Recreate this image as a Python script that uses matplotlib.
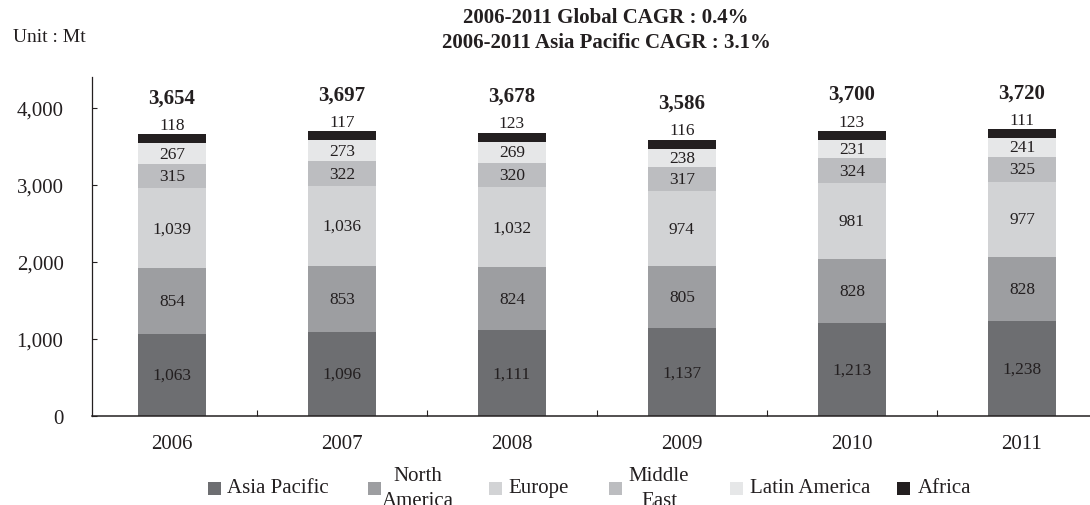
import matplotlib
matplotlib.use("Agg")
import matplotlib.pyplot as plt
from matplotlib.patches import Rectangle
from matplotlib.ticker import FuncFormatter

plt.rcParams['font.family'] = ['Liberation Serif', 'DejaVu Serif']

# Production by region, Mt
years = ["2006", "2007", "2008", "2009", "2010", "2011"]
regions = ["Asia Pacific", "North\nAmerica", "Europe", "Middle\nEast", "Latin America", "Africa"]
asia_pacific = [1063, 1096, 1111, 1137, 1213, 1238]
north_america = [854, 853, 824, 805, 828, 828]
europe = [1039, 1036, 1032, 974, 981, 977]
middle_east = [315, 322, 320, 317, 324, 325]
latin_america = [267, 273, 269, 238, 231, 241]
africa = [118, 117, 123, 116, 123, 111]
totals = [3654, 3697, 3678, 3586, 3700, 3720]
yticks = [0, 1000, 2000, 3000, 4000]

series = [asia_pacific, north_america, europe, middle_east, latin_america, africa]
colors = ["#6d6e71", "#9d9ea1", "#d2d3d5", "#bcbdc0", "#e6e7e8", "#231f20"]
ink = "#231f20"

W, H = 1090, 506
fig = plt.figure(figsize=(W / 100, H / 100), dpi=100)
ax = fig.add_axes([92 / W, 1 - 417 / H, (W - 92) / W, (417 - 78) / H])


def fx(px):
    return px / W


def fy(py):
    return 1 - py / H


x = list(range(len(years)))
bottom = [0] * len(years)
for vals, col, name in zip(series, colors, regions):
    ax.bar(x, vals, width=0.4, bottom=bottom, color=col, edgecolor="none", zorder=2)
    for i, v in enumerate(vals):
        if name == "Africa":
            ax.text(i, bottom[i] + v + 15, f"{v:,}", ha="center", va="bottom",
                    fontsize=12.5, color=ink)
        else:
            ax.text(i, bottom[i] + v / 2, f"{v:,}", ha="center", va="center",
                    fontsize=12.5, color=ink)
    bottom = [b + v for b, v in zip(bottom, vals)]

for i, t in enumerate(totals):
    ax.text(i, t + 480, f"{t:,}", ha="center", va="center", fontsize=15,
            fontweight="bold", color=ink)

ax.set_xlim(-0.47, 5.4)
ax.set_ylim(0, 4400)
ax.set_yticks(yticks)
ax.yaxis.set_major_formatter(FuncFormatter(lambda v, p: f"{int(v):,}"))
ax.tick_params(axis="y", direction="in", length=3.6, width=0.8, pad=20.5,
               labelsize=15, colors=ink)
ax.set_xticks(x, labels=years)
ax.tick_params(axis="x", which="major", length=0, pad=13, labelsize=15, colors=ink)
ax.set_xticks([i + 0.5 for i in x[:-1]], minor=True)
ax.tick_params(axis="x", which="minor", direction="in", length=4.3, width=0.8,
               colors=ink)

for side in ("top", "right"):
    ax.spines[side].set_visible(False)
ax.spines["left"].set_color(ink)
ax.spines["bottom"].set_color(ink)
ax.spines["left"].set_linewidth(0.9)
ax.spines["bottom"].set_linewidth(1.1)

fig.text(fx(606), fy(18), "2006-2011 Global CAGR : 0.4%", ha="center", va="center",
         fontsize=15, fontweight="bold", color=ink)
fig.text(fx(606), fy(43), "2006-2011 Asia Pacific CAGR : 3.1%", ha="center",
         va="center", fontsize=15, fontweight="bold", color=ink)
fig.text(fx(13), fy(38), "Unit : Mt", ha="left", va="center", fontsize=14, color=ink)

# Legend laid out by hand in figure pixels
square_x = [208, 368, 489, 609, 730, 897]
label_x = [227, 418, 508, 659, 750, 918]
legend_y = 489
for sx, lx, name, col in zip(square_x, label_x, regions, colors):
    fig.add_artist(Rectangle((fx(sx), fy(legend_y + 6.5)), 13 / W, 13 / H,
                             transform=fig.transFigure, facecolor=col,
                             edgecolor="none"))
    if "\n" in name:
        fig.text(fx(lx), fy(legend_y), name, ha="center", va="center",
                 multialignment="center", linespacing=1.4, fontsize=15, color=ink)
    else:
        fig.text(fx(lx), fy(legend_y), name, ha="left", va="center",
                 fontsize=15, color=ink)

fig.savefig("out.png", dpi=100)
